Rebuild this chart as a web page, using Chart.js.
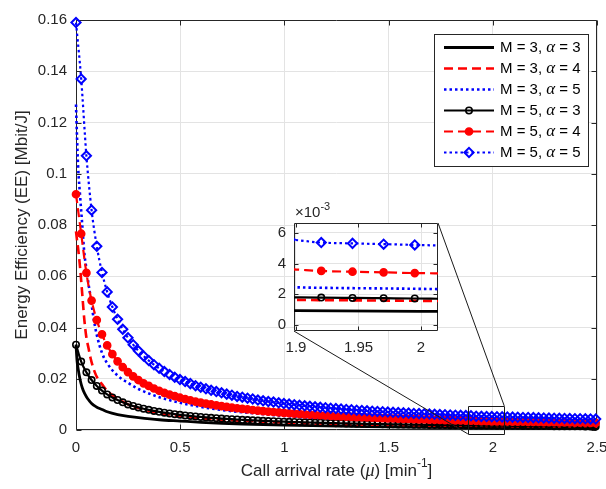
<!DOCTYPE html>
<html>
<head>
<meta charset="utf-8">
<script src="https://cdn.jsdelivr.net/npm/chart.js@4.4.1/dist/chart.umd.min.js"></script>
<style>
  html, body { margin: 0; padding: 0; background: #fff; }
  #wrap { position: relative; width: 606px; height: 489px; }
  #inset { position: absolute; }
  canvas { display: block; }
</style>
</head>
<body>
<div id="wrap">
  <canvas id="mainChart" width="606" height="489"></canvas>
  <div id="inset"><canvas id="insetChart"></canvas></div>
</div>
<script>
// call arrival rate grid used by the marker curves (M = 5)
const muGrid = [
  0, 0.0249, 0.0499, 0.0748, 0.0998, 0.1247, 0.1496, 0.1746, 0.1995, 0.2244,
  0.2494, 0.2743, 0.2993, 0.3242, 0.3491, 0.3741, 0.3990, 0.4239, 0.4489, 0.4738,
  0.4988, 0.5237, 0.5486, 0.5736, 0.5985, 0.6235, 0.6484, 0.6733, 0.6983, 0.7232,
  0.7481, 0.7731, 0.7980, 0.8230, 0.8479, 0.8728, 0.8978, 0.9227, 0.9476, 0.9726,
  0.9975, 1.0225, 1.0474, 1.0723, 1.0973, 1.1222, 1.1471, 1.1721, 1.1970, 1.2220,
  1.2469, 1.2718, 1.2968, 1.3217, 1.3467, 1.3716, 1.3965, 1.4215, 1.4464, 1.4713,
  1.4963, 1.5212, 1.5462, 1.5711, 1.5960, 1.6210, 1.6459, 1.6708, 1.6958, 1.7207,
  1.7457, 1.7706, 1.7955, 1.8205, 1.8454, 1.8704, 1.8953, 1.9202, 1.9452, 1.9701,
  1.9950, 2.0200, 2.0449, 2.0699, 2.0948, 2.1197, 2.1447, 2.1696, 2.1945, 2.2195,
  2.2444, 2.2694, 2.2943, 2.3192, 2.3442, 2.3691, 2.3940, 2.4190, 2.4439, 2.4689,
  2.4938
];
const eeM5a3 = [
  0.0333, 0.0267, 0.0225, 0.0195, 0.0172, 0.0154, 0.0139, 0.0127, 0.0117, 0.0108,
  0.0100, 0.00939, 0.00882, 0.00831, 0.00786, 0.00746, 0.00709, 0.00676, 0.00646, 0.00618,
  0.00593, 0.00570, 0.00548, 0.00528, 0.00510, 0.00492, 0.00476, 0.00461, 0.00447, 0.00433,
  0.00421, 0.00409, 0.00398, 0.00387, 0.00377, 0.00368, 0.00358, 0.00350, 0.00342, 0.00334,
  0.00326, 0.00319, 0.00312, 0.00306, 0.00299, 0.00293, 0.00287, 0.00282, 0.00276, 0.00271,
  0.00266, 0.00261, 0.00257, 0.00252, 0.00248, 0.00244, 0.00240, 0.00236, 0.00232, 0.00228,
  0.00225, 0.00221, 0.00218, 0.00215, 0.00212, 0.00209, 0.00206, 0.00203, 0.00200, 0.00197,
  0.00195, 0.00192, 0.00190, 0.00187, 0.00185, 0.00182, 0.00180, 0.00178, 0.00176, 0.00174,
  0.00172, 0.00170, 0.00168, 0.00166, 0.00164, 0.00162, 0.00160, 0.00159, 0.00157, 0.00155,
  0.00153, 0.00152, 0.00150, 0.00149, 0.00147, 0.00146, 0.00144, 0.00143, 0.00141, 0.00140,
  0.00139
];
const eeM5a4 = [
  0.0920, 0.0766, 0.0613, 0.0505, 0.0429, 0.0373, 0.0330, 0.0296, 0.0268, 0.0245,
  0.0226, 0.0209, 0.0195, 0.0182, 0.0172, 0.0162, 0.0153, 0.0145, 0.0138, 0.0132,
  0.0126, 0.0121, 0.0116, 0.0111, 0.0107, 0.0103, 0.00997, 0.00963, 0.00932, 0.00903,
  0.00875, 0.00849, 0.00824, 0.00801, 0.00779, 0.00759, 0.00739, 0.00720, 0.00703, 0.00686,
  0.00670, 0.00654, 0.00640, 0.00626, 0.00612, 0.00600, 0.00587, 0.00575, 0.00564, 0.00553,
  0.00543, 0.00532, 0.00523, 0.00513, 0.00504, 0.00496, 0.00487, 0.00479, 0.00471, 0.00463,
  0.00456, 0.00449, 0.00442, 0.00435, 0.00429, 0.00422, 0.00416, 0.00410, 0.00404, 0.00399,
  0.00393, 0.00388, 0.00383, 0.00378, 0.00373, 0.00368, 0.00363, 0.00352, 0.00347, 0.00343,
  0.00338, 0.00336, 0.00333, 0.00330, 0.00327, 0.00324, 0.00321, 0.00318, 0.00315, 0.00312,
  0.00308, 0.00305, 0.00302, 0.00299, 0.00296, 0.00293, 0.00290, 0.00287, 0.00284, 0.00281,
  0.00278
];
const eeM5a5 = [
  0.159, 0.137, 0.107, 0.0858, 0.0717, 0.0615, 0.0539, 0.0480, 0.0432, 0.0393,
  0.0360, 0.0333, 0.0309, 0.0289, 0.0271, 0.0255, 0.0241, 0.0228, 0.0217, 0.0206,
  0.0197, 0.0189, 0.0181, 0.0173, 0.0167, 0.0161, 0.0155, 0.0150, 0.0145, 0.0140,
  0.0136, 0.0131, 0.0128, 0.0124, 0.0121, 0.0117, 0.0114, 0.0111, 0.0109, 0.0106,
  0.0103, 0.0101, 0.00987, 0.00965, 0.00944, 0.00924, 0.00905, 0.00886, 0.00868, 0.00851,
  0.00835, 0.00819, 0.00804, 0.00790, 0.00775, 0.00762, 0.00749, 0.00736, 0.00724, 0.00712,
  0.00701, 0.00689, 0.00679, 0.00668, 0.00658, 0.00648, 0.00639, 0.00630, 0.00621, 0.00612,
  0.00603, 0.00595, 0.00587, 0.00579, 0.00572, 0.00564, 0.00557, 0.00537, 0.00532, 0.00527,
  0.00522, 0.00517, 0.00512, 0.00507, 0.00502, 0.00497, 0.00492, 0.00488, 0.00483, 0.00477,
  0.00472, 0.00467, 0.00462, 0.00457, 0.00453, 0.00448, 0.00443, 0.00439, 0.00435, 0.00430,
  0.00426
];

// curves without markers (M = 3)
const muFine = [0, 0.005, 0.01, 0.02, 0.03, 0.04, 0.05, 0.06, 0.07, 0.08, 0.09, 0.1, 0.125, 0.15, 0.2,
  0.25, 0.3, 0.4, 0.5, 0.6, 0.7, 0.8, 1.0, 1.2, 1.4, 1.6, 1.8, 1.9, 2.0, 2.2, 2.5];
const eeM3a3 = [0.0333, 0.027, 0.024, 0.0195, 0.0165, 0.0145, 0.0130, 0.0118, 0.0108, 0.0100, 0.0094, 0.0089, 0.0080, 0.0071, 0.0060,
  0.0053, 0.0048, 0.0040, 0.0035, 0.0030, 0.0026, 0.0023, 0.0019, 0.0016, 0.00135, 0.00115, 0.00100, 0.00093, 0.00088, 0.00080, 0.00070];
const eeM3a4 = [0.0775, 0.074, 0.071, 0.063, 0.053, 0.043, 0.036, 0.032, 0.028, 0.0250, 0.0226, 0.0207, 0.0178, 0.0152, 0.0122,
  0.0100, 0.0086, 0.0066, 0.0054, 0.0046, 0.0040, 0.0036, 0.0029, 0.0025, 0.0021, 0.0019, 0.0017, 0.00163, 0.00157, 0.00146, 0.00130];
const eeM3a5 = [0.127, 0.114, 0.103, 0.091, 0.080, 0.069, 0.063, 0.057, 0.052, 0.046, 0.041, 0.037, 0.030, 0.026, 0.0212,
  0.0184, 0.0160, 0.0128, 0.0106, 0.0090, 0.0078, 0.0069, 0.0055, 0.0045, 0.0038, 0.0032, 0.0027, 0.00245, 0.00235, 0.0021, 0.0018];

const seriesM = ['3', '3', '3', '5', '5', '5'];
const seriesAlpha = ['3', '4', '5', '3', '4', '5'];

const xTickVals = [0, 0.5, 1, 1.5, 2, 2.5];
const yTickVals = [0, 0.02, 0.04, 0.06, 0.08, 0.1, 0.12, 0.14, 0.16];
const insetXTicks = [1.9, 1.95, 2];
const insetYTicks = [0, 0.002, 0.004, 0.006];

// look
const AXIS = '#262626';
const GRID = '#e3e3e3';
const SANS = '"Liberation Sans", Arial, Helvetica, sans-serif';
const SERIF = '"Liberation Serif", "DejaVu Serif", serif';
const styles = [
  { color: '#000000', dash: [], width: 2.8, marker: null },
  { color: '#ff0000', dash: [9, 5], width: 2.6, marker: null },
  { color: '#0000ff', dash: [2.5, 3], width: 2.6, marker: null },
  { color: '#000000', dash: [], width: 2.2, marker: 'circle', fill: false, r: 3.2, bw: 1.6 },
  { color: '#ff0000', dash: [9, 5], width: 2.2, marker: 'circle', fill: true, r: 3.6, bw: 1.5 },
  { color: '#0000ff', dash: [2.5, 3], width: 2.2, marker: 'rectRot', fill: false, r: 4.6, bw: 2 }
];

// where the inset sits and which window it magnifies (main-axis units)
const insetAt = { x: [1.046, 1.737], y: [0.0386, 0.0808] };
const zoomWin = { x: [1.88, 2.055], y: [-0.0015, 0.0094] };

Chart.defaults.font.family = SANS;
Chart.defaults.font.size = 15;
Chart.defaults.color = AXIS;

function makeDatasets(clip) {
  const src = [
    [muFine, eeM3a3], [muFine, eeM3a4], [muFine, eeM3a5],
    [muGrid, eeM5a3], [muGrid, eeM5a4], [muGrid, eeM5a5]
  ];
  return src.map(([xs, ys], i) => {
    const s = styles[i];
    return {
      label: 'M = ' + seriesM[i] + ', α = ' + seriesAlpha[i],
      data: xs.map((x, j) => ({ x: x, y: ys[j] })),
      borderColor: s.color,
      borderWidth: s.width,
      borderDash: s.dash,
      cubicInterpolationMode: 'monotone',
      pointStyle: s.marker || 'circle',
      pointRadius: s.marker ? s.r : 0,
      pointBorderColor: s.color,
      pointBorderWidth: s.bw || 1.5,
      pointBackgroundColor: s.fill ? s.color : 'rgba(0,0,0,0)',
      fill: false,
      clip: clip,
      order: 5 - i
    };
  });
}

function fmt(v) {
  return String(Math.round(v * 10000) / 10000);
}

function drawFrame(chart, xt, yt, len) {
  const { ctx, chartArea: a, scales } = chart;
  const L = Math.round(a.left) + 0.5, R = Math.round(a.right) - 0.5;
  const T = Math.round(a.top) + 0.5, B = Math.round(a.bottom) - 0.5;
  ctx.save();
  ctx.strokeStyle = AXIS;
  ctx.lineWidth = 1;
  ctx.setLineDash([]);
  ctx.beginPath();
  ctx.rect(L, T, R - L, B - T);
  xt.forEach(v => {
    const p = Math.round(scales.x.getPixelForValue(v)) + 0.5;
    ctx.moveTo(p, B); ctx.lineTo(p, B - len);
    ctx.moveTo(p, T); ctx.lineTo(p, T + len);
  });
  yt.forEach(v => {
    const p = Math.round(scales.y.getPixelForValue(v)) + 0.5;
    ctx.moveTo(L, p); ctx.lineTo(L + len, p);
    ctx.moveTo(R, p); ctx.lineTo(R - len, p);
  });
  ctx.stroke();
  ctx.restore();
}

function drawRich(ctx, parts, x, y, align) {
  let total = 0;
  parts.forEach(p => { ctx.font = p.font; p.w = ctx.measureText(p.text).width; total += p.w; });
  let cx = align === 'center' ? x - total / 2 : x;
  ctx.textAlign = 'left';
  ctx.textBaseline = 'middle';
  parts.forEach(p => { ctx.font = p.font; ctx.fillText(p.text, cx, y + (p.dy || 0)); cx += p.w; });
}

function drawMarker(ctx, s, x, y) {
  ctx.save();
  ctx.setLineDash([]);
  ctx.lineWidth = s.bw || 1.5;
  ctx.strokeStyle = s.color;
  ctx.fillStyle = s.fill ? s.color : '#ffffff';
  ctx.beginPath();
  if (s.marker === 'rectRot') {
    ctx.moveTo(x - s.r, y); ctx.lineTo(x, y - s.r); ctx.lineTo(x + s.r, y); ctx.lineTo(x, y + s.r);
    ctx.closePath();
  } else {
    ctx.arc(x, y, s.r, 0, Math.PI * 2);
  }
  if (s.fill) ctx.fill();
  ctx.stroke();
  ctx.restore();
}

const framePlugin = {
  id: 'frame',
  beforeDatasetsDraw(chart) { drawFrame(chart, xTickVals, yTickVals, 5); }
};

const legendPlugin = {
  id: 'matLegend',
  afterDatasetsDraw(chart) {
    const { ctx, chartArea: a } = chart;
    const w = 154, h = 132;
    const x0 = Math.round(a.right - 9 - w), y0 = Math.round(a.top + 14);
    ctx.save();
    ctx.fillStyle = '#ffffff';
    ctx.fillRect(x0, y0, w, h);
    ctx.strokeStyle = AXIS;
    ctx.lineWidth = 1;
    ctx.strokeRect(x0 + 0.5, y0 + 0.5, w, h);
    styles.forEach((s, i) => {
      const y = y0 + 13.5 + i * 21;
      ctx.beginPath();
      ctx.setLineDash(s.dash);
      ctx.lineWidth = s.width;
      ctx.strokeStyle = s.color;
      ctx.moveTo(x0 + 10, y);
      ctx.lineTo(x0 + 60, y);
      ctx.stroke();
      ctx.setLineDash([]);
      if (s.marker) drawMarker(ctx, s, x0 + 35, y);
      ctx.fillStyle = '#000000';
      drawRich(ctx, [
        { text: 'M = ' + seriesM[i] + ', ', font: '15px ' + SANS },
        { text: 'α', font: 'italic 17px ' + SERIF },
        { text: ' = ' + seriesAlpha[i], font: '15px ' + SANS }
      ], x0 + 66, y, 'left');
    });
    ctx.restore();
  }
};

const titlesPlugin = {
  id: 'titles',
  afterDraw(chart) {
    const { ctx, chartArea: a, scales } = chart;
    ctx.save();
    ctx.fillStyle = AXIS;
    drawRich(ctx, [
      { text: 'Call arrival rate (', font: '17px ' + SANS },
      { text: 'μ', font: 'italic 18px ' + SERIF },
      { text: ') [min', font: '17px ' + SANS },
      { text: '-1', font: '12px ' + SANS, dy: -7 },
      { text: ']', font: '17px ' + SANS }
    ], (a.left + a.right) / 2, a.bottom + 41, 'center');
    ctx.translate(22, (a.top + a.bottom) / 2);
    ctx.rotate(-Math.PI / 2);
    drawRich(ctx, [{ text: 'Energy Efficiency (EE) [Mbit/J]', font: '17px ' + SANS }], 0, 0, 'center');
    ctx.restore();

    // magnified window and its connector lines to the inset
    const px = v => scales.x.getPixelForValue(v);
    const py = v => scales.y.getPixelForValue(v);
    const rl = px(zoomWin.x[0]), rr = px(zoomWin.x[1]);
    const rt = py(zoomWin.y[1]), rb = py(zoomWin.y[0]);
    const il = px(insetAt.x[0]), ir = px(insetAt.x[1]);
    const it = py(insetAt.y[1]), ib = py(insetAt.y[0]);
    ctx.save();
    ctx.strokeStyle = '#1a1a1a';
    ctx.lineWidth = 1;
    ctx.beginPath();
    ctx.rect(Math.round(rl) + 0.5, Math.round(rt) + 0.5, Math.round(rr - rl), Math.round(rb - rt));
    ctx.moveTo(ir, it); ctx.lineTo(rr, rt);
    ctx.moveTo(il, ib); ctx.lineTo(rl, rb);
    ctx.stroke();
    ctx.restore();
  }
};

const mainChart = new Chart(document.getElementById('mainChart'), {
  type: 'line',
  data: { datasets: makeDatasets(false) },
  options: {
    responsive: false,
    animation: false,
    events: [],
    layout: { autoPadding: false, padding: { left: 0, right: 9, top: 20, bottom: 0 } },
    plugins: { legend: { display: false }, tooltip: { enabled: false } },
    scales: {
      x: {
        type: 'linear', min: 0, max: 2.5,
        afterBuildTicks: s => { s.ticks = xTickVals.map(v => ({ value: v })); },
        afterFit: s => { s.height = 59; s.paddingLeft = 0; s.paddingRight = 0; },
        grid: { color: GRID, drawTicks: false, lineWidth: 1 },
        border: { display: false },
        ticks: { padding: 9, maxRotation: 0, autoSkip: false, callback: v => fmt(v) }
      },
      y: {
        type: 'linear', min: 0, max: 0.16,
        afterBuildTicks: s => { s.ticks = yTickVals.map(v => ({ value: v })); },
        afterFit: s => { s.width = 76; s.paddingTop = 0; s.paddingBottom = 0; },
        grid: { color: GRID, drawTicks: false, lineWidth: 1 },
        border: { display: false },
        ticks: { padding: 9, autoSkip: false, callback: v => fmt(v) }
      }
    }
  },
  plugins: [framePlugin, legendPlugin, titlesPlugin]
});

// inset chart, placed over the main chart
const IY_W = 26, IX_H = 28, IPAD_T = 24, IPAD_R = 4;
const mx = mainChart.scales.x, my = mainChart.scales.y;
const bl = Math.round(mx.getPixelForValue(insetAt.x[0]));
const br = Math.round(mx.getPixelForValue(insetAt.x[1]));
const bt = Math.round(my.getPixelForValue(insetAt.y[1]));
const bb = Math.round(my.getPixelForValue(insetAt.y[0]));
const insetDiv = document.getElementById('inset');
insetDiv.style.left = (bl - IY_W) + 'px';
insetDiv.style.top = (bt - IPAD_T) + 'px';
const ic = document.getElementById('insetChart');
ic.width = (br - bl) + IY_W + IPAD_R;
ic.height = (bb - bt) + IPAD_T + IX_H;

const insetPlugin = {
  id: 'insetDeco',
  beforeDraw(chart) {
    const { ctx, chartArea: a } = chart;
    ctx.save();
    ctx.fillStyle = '#ffffff';
    ctx.fillRect(a.left, a.top, a.right - a.left, a.bottom - a.top);
    ctx.restore();
  },
  beforeDatasetsDraw(chart) { drawFrame(chart, insetXTicks, insetYTicks, 4); },
  afterDraw(chart) {
    const { ctx, chartArea: a } = chart;
    ctx.save();
    ctx.fillStyle = AXIS;
    drawRich(ctx, [
      { text: '×10', font: '15px ' + SANS },
      { text: '-3', font: '11px ' + SANS, dy: -6 }
    ], a.left + 1, a.top - 10, 'left');
    ctx.restore();
  }
};

new Chart(ic, {
  type: 'line',
  data: { datasets: makeDatasets(0) },
  options: {
    responsive: false,
    animation: false,
    events: [],
    layout: { autoPadding: false, padding: { left: 0, right: IPAD_R, top: IPAD_T, bottom: 0 } },
    plugins: { legend: { display: false }, tooltip: { enabled: false } },
    scales: {
      x: {
        type: 'linear', min: 1.8984, max: 2.0136,
        afterBuildTicks: s => { s.ticks = insetXTicks.map(v => ({ value: v })); },
        afterFit: s => { s.height = IX_H; s.paddingLeft = 0; s.paddingRight = 0; },
        grid: { color: GRID, drawTicks: false },
        border: { display: false },
        ticks: { padding: 8, maxRotation: 0, autoSkip: false, callback: v => fmt(v) }
      },
      y: {
        type: 'linear', min: -0.0004, max: 0.00665,
        afterBuildTicks: s => { s.ticks = insetYTicks.map(v => ({ value: v })); },
        afterFit: s => { s.width = IY_W; s.paddingTop = 0; s.paddingBottom = 0; },
        grid: { color: GRID, drawTicks: false },
        border: { display: false },
        ticks: { padding: 8, autoSkip: false, callback: v => String(Math.round(v * 1000)) }
      }
    }
  },
  plugins: [insetPlugin]
});
</script>
</body>
</html>
